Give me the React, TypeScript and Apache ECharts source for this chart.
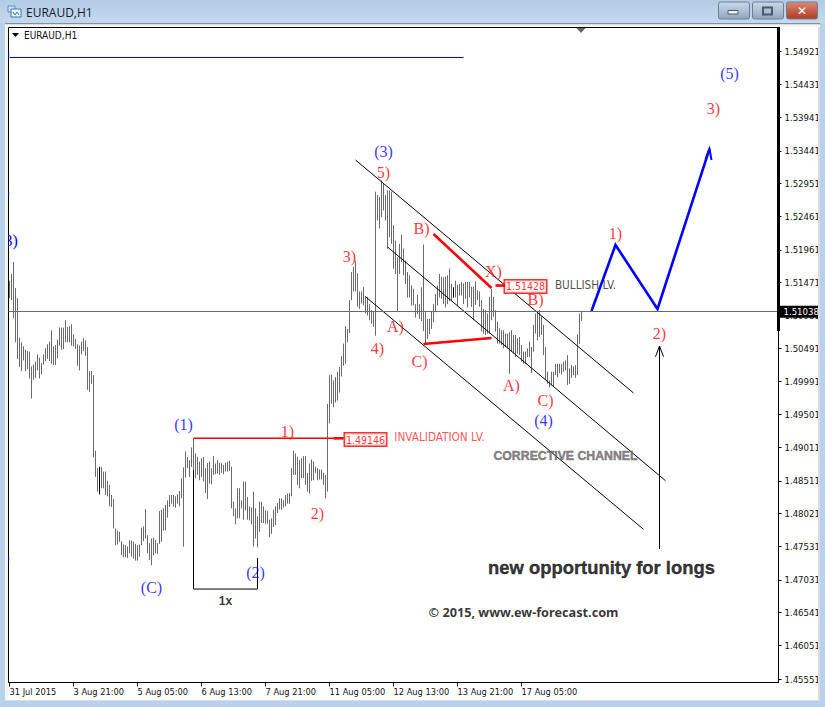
import React, { useEffect, useRef } from "react";
import * as echarts from "echarts";

const categoryCount = 385;
const tickLabels = ["31 Jul 2015", "3 Aug 21:00", "5 Aug 05:00", "6 Aug 13:00", "7 Aug 21:00", "11 Aug 05:00", "12 Aug 13:00", "13 Aug 21:00", "17 Aug 05:00"];
const priceTicks = [1.54921, 1.54431, 1.53941, 1.53441, 1.52951, 1.52461, 1.51961, 1.51471, 1.50981, 1.50491, 1.49991, 1.49501, 1.49011, 1.48511, 1.48021, 1.47531, 1.47031, 1.46541, 1.46051, 1.45551];
const lastPrice = 1.51038;

const barHigh = [
  1.5150, 1.5160, 1.5178, 1.5139, 1.5124, 1.5065, 1.5058, 1.5052, 1.5047, 1.5045, 1.5044, 1.5022, 1.5025, 1.5029, 1.5040, 1.5035, 1.5027, 1.5040, 1.5049, 1.5055, 1.5059, 1.5076, 1.5052, 1.5054, 1.5062, 1.5080, 1.5080, 1.5080, 1.5091, 1.5081, 1.5082, 1.5085, 1.5070, 1.5063, 1.5055, 1.5053, 1.5059, 1.5064, 1.5061, 1.5051, 1.5015, 1.5015, 1.5009,
  1.4896, 1.4870, 1.4872, 1.4872, 1.4865, 1.4865, 1.4851, 1.4845, 1.4830, 1.4824, 1.4780, 1.4777, 1.4775, 1.4761, 1.4756, 1.4755, 1.4753, 1.4762, 1.4762, 1.4760, 1.4757, 1.4755, 1.4756, 1.4781, 1.4783, 1.4809, 1.4770, 1.4758, 1.4765, 1.4766, 1.4763, 1.4758, 1.4806, 1.4808, 1.4810, 1.4815, 1.4822, 1.4830, 1.4830, 1.4830, 1.4828, 1.4831, 1.4836, 1.4855, 1.4871, 1.4895, 1.4887, 1.4882, 1.4901, 1.4915, 1.4892, 1.4887, 1.4880, 1.4885, 1.4887, 1.4870, 1.4878, 1.4880, 1.4870, 1.4888, 1.4877, 1.4882, 1.4878, 1.4878, 1.4875, 1.4878, 1.4880, 1.4881, 1.4872, 1.4820, 1.4810, 1.4840, 1.4840, 1.4822, 1.4850, 1.4850, 1.4827, 1.4813, 1.4811, 1.4835, 1.4810, 1.4798, 1.4820, 1.4820, 1.4813, 1.4807, 1.4806, 1.4793, 1.4795, 1.4808, 1.4813, 1.4818, 1.4825, 1.4825, 1.4822, 1.4830, 1.4832, 1.4833, 1.4870, 1.4896, 1.4892, 1.4887, 1.4882, 1.4885, 1.4888, 1.4888, 1.4863, 1.4877, 1.4883, 1.4880, 1.4872, 1.4870, 1.4868, 1.4868, 1.4863, 1.4860, 1.4966,
  1.5009, 1.5010, 1.5001, 1.5006, 1.5014, 1.5021, 1.5037, 1.5056, 1.5082, 1.5078, 1.5121, 1.5163, 1.5171, 1.5180, 1.5161, 1.5134, 1.5134, 1.5141, 1.5127, 1.5126, 1.5115, 1.5106, 1.5104,
  1.5283, 1.5278, 1.5275, 1.5300, 1.5295, 1.5278, 1.5285, 1.5285, 1.5283, 1.5233, 1.5210, 1.5185, 1.5205, 1.5219, 1.5198, 1.5180, 1.5163, 1.5158, 1.5143, 1.5138, 1.5115, 1.5129, 1.5115, 1.5140, 1.5204, 1.5103, 1.5093, 1.5093, 1.5105, 1.5115, 1.5130, 1.5143, 1.5160, 1.5156, 1.5155, 1.5156, 1.5158, 1.5168, 1.5145, 1.5140, 1.5150, 1.5144, 1.5145, 1.5148, 1.5146, 1.5148, 1.5148, 1.5148,
  1.5141, 1.5141, 1.5149, 1.5136, 1.5134, 1.5121, 1.5108, 1.5106, 1.5101, 1.5126, 1.5138, 1.5126, 1.5106, 1.5089, 1.5079, 1.5076, 1.5076, 1.5071, 1.5071, 1.5073, 1.5076, 1.5069, 1.5069, 1.5064, 1.5066, 1.5054, 1.5044, 1.5044, 1.5049, 1.5059, 1.5051, 1.5084, 1.5101, 1.5105, 1.5106, 1.5097, 1.5084, 1.5051, 1.5014, 1.5001, 1.5014, 1.5014, 1.5026, 1.5026, 1.5026, 1.5026, 1.5029, 1.5031, 1.5039, 1.5019, 1.5024, 1.5022, 1.5024, 1.5070, 1.5101, 1.5105,
];

const barLow = [
  1.5124, 1.5121, 1.5094, 1.5058, 1.5033, 1.5021, 1.5015, 1.5031, 1.5015, 1.5018, 1.5004, 1.4974, 1.5002, 1.5005, 1.5016, 1.5004, 1.5010, 1.5025, 1.5030, 1.5033, 1.5030, 1.5026, 1.5024, 1.5024, 1.5034, 1.5053, 1.5047, 1.5048, 1.5058, 1.5058, 1.5058, 1.5053, 1.5052, 1.5048, 1.5023, 1.5016, 1.5040, 1.5045, 1.5038, 1.4987, 1.4984, 1.4996, 1.4886,
  1.4857, 1.4835, 1.4831, 1.4840, 1.4840, 1.4830, 1.4828, 1.4813, 1.4812, 1.4780, 1.4755, 1.4756, 1.4760, 1.4740, 1.4737, 1.4737, 1.4736, 1.4743, 1.4738, 1.4735, 1.4732, 1.4732, 1.4738, 1.4755, 1.4761, 1.4765, 1.4743, 1.4733, 1.4725, 1.4740, 1.4743, 1.4742, 1.4757, 1.4760, 1.4777, 1.4777, 1.4796, 1.4812, 1.4817, 1.4813, 1.4811, 1.4817, 1.4813, 1.4825, 1.4753, 1.4856, 1.4870, 1.4857, 1.4872, 1.4867, 1.4855, 1.4860, 1.4852, 1.4857, 1.4850, 1.4833, 1.4824, 1.4847, 1.4846, 1.4860, 1.4861, 1.4862, 1.4860, 1.4863, 1.4861, 1.4865, 1.4865, 1.4866, 1.4810, 1.4798, 1.4786, 1.4795, 1.4795, 1.4810, 1.4793, 1.4807, 1.4793, 1.4792, 1.4786, 1.4753, 1.4765, 1.4752, 1.4775, 1.4788, 1.4788, 1.4787, 1.4787, 1.4767, 1.4772, 1.4782, 1.4785, 1.4803, 1.4808, 1.4808, 1.4811, 1.4813, 1.4817, 1.4817, 1.4828, 1.4860, 1.4860, 1.4845, 1.4840, 1.4855, 1.4855, 1.4845, 1.4835, 1.4832, 1.4851, 1.4852, 1.4863, 1.4852, 1.4853, 1.4853, 1.4845, 1.4825, 1.4835,
  1.4937, 1.4966, 1.4961, 1.4968, 1.4971, 1.4983, 1.5007, 1.5023, 1.5026, 1.5058, 1.5072, 1.5121, 1.5134, 1.5134, 1.5111, 1.5108, 1.5116, 1.5113, 1.5101, 1.5098, 1.5091, 1.5086, 1.5081,
  1.5068, 1.5240, 1.5228, 1.5245, 1.5255, 1.5240, 1.5198, 1.5215, 1.5205, 1.5168, 1.5160, 1.5104, 1.5160, 1.5178, 1.5158, 1.5145, 1.5125, 1.5125, 1.5113, 1.5113, 1.5095, 1.5100, 1.5093, 1.5090, 1.5075, 1.5055, 1.5063, 1.5070, 1.5078, 1.5088, 1.5103, 1.5113, 1.5125, 1.5123, 1.5115, 1.5110, 1.5115, 1.5120, 1.5120, 1.5125, 1.5125, 1.5113, 1.5128, 1.5128, 1.5115, 1.5123, 1.5110, 1.5125,
  1.5111, 1.5091, 1.5114, 1.5121, 1.5111, 1.5074, 1.5071, 1.5069, 1.5071, 1.5071, 1.5091, 1.5096, 1.5074, 1.5056, 1.5056, 1.5054, 1.5049, 1.5051, 1.5049, 1.5011, 1.5044, 1.5041, 1.5036, 1.5041, 1.5039, 1.5029, 1.5026, 1.5026, 1.5036, 1.5036, 1.5012, 1.5044, 1.5071, 1.5061, 1.5066, 1.5069, 1.5039, 1.5002, 1.4996, 1.4991, 1.4994, 1.4991, 1.5009, 1.5006, 1.5012, 1.5010, 1.5014, 1.5016, 1.4994, 1.4996, 1.5005, 1.5009, 1.5005, 1.5009, 1.5056, 1.5090,
];

// Each segment: pairs of [bar index, price]
const darkBarParts = [[[45, 1.4872], [45, 1.4831]], [[222, 1.5140], [222, 1.5125]]];
const channelLines = [
  [[173, 1.53303], [312, 1.49823]],
  [[189, 1.52004], [328, 1.48513]],
  [[178, 1.51261], [317, 1.47787]],
];
const topLine = [[[0, 1.54834], [227, 1.54834]]];
const invalidationLine = [[[92, 1.49146], [167, 1.49146]]];
const redThick = [
  [[162, 1.49146], [167, 1.49146]],
  [[243, 1.51428], [248, 1.51428]],
  [[212, 1.52198], [241, 1.51391]],
  [[207, 1.50555], [241, 1.50644]],
];
const forecastPath = [[[291, 1.51048], [303, 1.52034], [324, 1.51078], [350, 1.53468]]];
const forecastHead = [[[348, 1.53318], [350, 1.53468], [351, 1.53303]]];
const upArrow = [
  [[325, 1.47493], [325, 1.50525]],
  [[323, 1.50365], [325, 1.50525], [327, 1.50365]],
];
const bracket = [[[92, 1.48673], [92, 1.46895], [124, 1.46895], [124, 1.47358]]];

// [text, bar index, price]
const blueWaves: [string, number, number][] = [
  ["(1)", 87, 1.49345], ["(2)", 123, 1.47149], ["(C)", 71, 1.46925], ["(3)", 187, 1.53423], ["(4)", 267, 1.49405], ["(5)", 360, 1.54588],
];
const redWaves: [string, number, number][] = [
  ["1)", 139, 1.49255], ["2)", 154, 1.4803], ["3)", 170, 1.51869], ["5)", 187, 1.53109], ["4)", 184, 1.50495], ["A)", 193, 1.50809],
  ["B)", 206, 1.52273], ["C)", 205, 1.50286], ["X)", 242, 1.51645], ["B)", 263, 1.51212], ["A)", 251, 1.49942], ["C)", 268, 1.49718],
  ["1)", 303, 1.52198], ["2)", 325, 1.50719], ["3)", 352, 1.54065],
];
const priceTags: [string, number, number][] = [["1.49146", 178, 1.49128], ["1.51428", 258, 1.51414]];
const invalidationNote: [string, number, number][] = [["INVALIDATION LV.", 215, 1.49166]];
const bullishNote: [string, number, number][] = [["BULLISH LV.", 288, 1.51436]];
const channelNote: [string, number, number][] = [["CORRECTIVE CHANNEL", 278, 1.48882]];
const longsNote: [string, number, number][] = [["new opportunity for longs", 296, 1.47224]];
const copyrightNote: [string, number, number][] = [["\u00a9 2015, www.ew-forecast.com", 257, 1.46552]];
const oneXNote: [string, number, number][] = [["1x", 108, 1.46716]];

const categories = Array.from({ length: categoryCount }, (_, i) => (i % 32 === 0 ? tickLabels[i / 32] ?? "" : ""));

const uiFont = "DejaVu Sans Condensed, DejaVu Sans";

function lineSeries(segments: number[][][], color: string, width: number) {
  return {
    type: "lines",
    coordinateSystem: "cartesian2d",
    polyline: true,
    silent: true,
    animation: false,
    z: 4,
    symbol: "none",
    lineStyle: { color, width, opacity: 1, curveness: 0 },
    data: segments.map((coords) => ({ coords })),
  };
}

function textSeries(items: [string, number, number][], label: any) {
  return {
    type: "scatter",
    silent: true,
    z: 6,
    symbolSize: 1,
    itemStyle: { color: "rgba(0,0,0,0)" },
    label: { show: true, position: "inside", formatter: (p: any) => p.name, ...label },
    data: items.map(([name, i, price]) => ({ name, value: [i, price] })),
  };
}

function chrome() {
  const frame = "#b9d1ea";
  const button = (x: number, w: number, top: string, bottom: string) => ({
    type: "rect",
    z: 101,
    shape: { x, y: 2, width: w, height: 17, r: 2 },
    style: {
      fill: new echarts.graphic.LinearGradient(0, 0, 0, 1, [{ offset: 0, color: top }, { offset: 1, color: bottom }]),
      stroke: "#6f7f92",
      lineWidth: 1,
    },
  });
  return [
    // clipped remains of labels left of the window edge
    { type: "text", z: 3, style: { text: "(3)", x: 8.5, y: 240, align: "center", verticalAlign: "middle", fill: "#0000ff", font: "16px 'Liberation Serif'" } },
    { type: "text", z: 3, style: { text: ")", x: 9.5, y: 52, align: "right", verticalAlign: "middle", fill: "#0000ff", font: "16px 'Liberation Serif'" } },
    { type: "text", z: 3, style: { text: ")", x: 9.5, y: 192, align: "right", verticalAlign: "middle", fill: "#0000ff", font: "16px 'Liberation Serif'" } },
    { type: "text", z: 3, style: { text: ")", x: 9.5, y: 557, align: "right", verticalAlign: "middle", fill: "#0000ff", font: "16px 'Liberation Serif'" } },
    // window frame
    { type: "rect", z: 100, shape: { x: 0, y: 0, width: 5, height: 707 }, style: { fill: frame } },
    { type: "rect", z: 100, shape: { x: 5, y: 24, width: 3, height: 676 }, style: { fill: "#f4f4f4" } },
    { type: "rect", z: 100, shape: { x: 820, y: 0, width: 5, height: 707 }, style: { fill: frame } },
    { type: "rect", z: 100, shape: { x: 818, y: 24, width: 2, height: 676 }, style: { fill: "#dcdcdc" } },
    { type: "rect", z: 100, shape: { x: 0, y: 701, width: 825, height: 6 }, style: { fill: frame } },
    { type: "rect", z: 100, shape: { x: 5, y: 700, width: 815, height: 1 }, style: { fill: "#dcdcdc" } },
    {
      type: "rect", z: 100, shape: { x: 0, y: 0, width: 825, height: 23 },
      style: { fill: new echarts.graphic.LinearGradient(0, 0, 0, 1, [{ offset: 0, color: "#b3cbe4" }, { offset: 1, color: "#c3d9ef" }]) },
    },
    { type: "rect", z: 100, shape: { x: 5, y: 23, width: 815, height: 1.5 }, style: { fill: "#8a8f96" } },
    { type: "rect", z: 100, shape: { x: 5, y: 24.5, width: 815, height: 2.5 }, style: { fill: "#f4f4f4" } },
    // title
    { type: "rect", z: 101, shape: { x: 8, y: 6, width: 7, height: 6 }, style: { fill: "#cfe2f5", stroke: "#5f8fc0", lineWidth: 1 } },
    { type: "rect", z: 101, shape: { x: 11, y: 9, width: 10, height: 8 }, style: { fill: "#e8f2fb", stroke: "#3f78b5", lineWidth: 1 } },
    { type: "polyline", z: 102, shape: { points: [[13, 12], [15, 15], [17, 12], [19, 15]] }, style: { stroke: "#3f78b5", fill: "none", lineWidth: 1 } },
    { type: "text", z: 101, style: { text: "EURAUD,H1", x: 26, y: 12, verticalAlign: "middle", fill: "#1a1a2a", font: "12px 'Open Sans'" } },
    button(718.5, 31, "#c9d9ea", "#8fa6bf"),
    button(752.5, 31, "#c9d9ea", "#8fa6bf"),
    button(786.5, 31, "#d98a78", "#b03a22"),
    { type: "rect", z: 102, shape: { x: 728, y: 10.5, width: 10, height: 3.5 }, style: { fill: "#eef3f8", stroke: "#4b5a6b", lineWidth: 1 } },
    { type: "rect", z: 102, shape: { x: 763, y: 7.5, width: 9, height: 7 }, style: { fill: "none", stroke: "#4b5a6b", lineWidth: 2 } },
    { type: "text", z: 102, style: { text: "\u2715", x: 802, y: 10.5, align: "center", verticalAlign: "middle", fill: "#ffffff", font: "bold 12px 'DejaVu Sans'" } },
    // chart corner marks
    { type: "polygon", z: 20, shape: { points: [[12, 33], [19, 33], [15.5, 37]] }, style: { fill: "#000" } },
    { type: "text", z: 20, style: { text: "EURAUD,H1", x: 24, y: 35.5, verticalAlign: "middle", fill: "#111", font: "10px " + uiFont } },
    { type: "polygon", z: 20, shape: { points: [[576.5, 28], [585.5, 28], [581, 33]] }, style: { fill: "#666" } },
    { type: "rect", z: 7, shape: { x: 777, y: 27, width: 3, height: 304 }, style: { fill: "#000" } },
  ];
}

const yMax = 1.55282;
const yMin = 1.45499;

export default function App() {
  const ref = useRef<HTMLDivElement>(null);
  useEffect(() => {
    if (!ref.current) return;
    const chart = echarts.init(ref.current, undefined, { renderer: "svg" });
    chart.setOption({
      animation: false,
      backgroundColor: "#ffffff",
      textStyle: { fontFamily: uiFont },
      grid: { left: 8.5, top: 27.5, width: 770, height: 655, show: true, borderColor: "#000", borderWidth: 1, backgroundColor: "#fff" },
      xAxis: {
        type: "category",
        data: categories,
        boundaryGap: true,
        axisLine: { show: true, lineStyle: { color: "#000", width: 1 } },
        axisTick: { show: true, alignWithLabel: true, length: 4, lineStyle: { color: "#000" }, interval: (i: number) => i % 32 === 0 && i <= 256 },
        axisLabel: { show: true, interval: (i: number) => i % 32 === 0 && i <= 256, align: "left", margin: 4, color: "#111", fontSize: 9.2, fontFamily: uiFont, hideOverlap: false },
        splitLine: { show: false },
      },
      yAxis: {
        type: "value",
        position: "right",
        min: yMin,
        max: yMax,
        scale: true,
        axisLine: { show: true, lineStyle: { color: "#000", width: 1 } },
        axisTick: { show: true, length: 3, lineStyle: { color: "#000" }, customValues: priceTicks },
        axisLabel: { show: true, margin: 6, color: "#111", fontSize: 9.5, fontFamily: uiFont, customValues: priceTicks, formatter: (v: number) => v.toFixed(5), showMinLabel: true, showMaxLabel: true },
        splitLine: { show: false },
      },
      series: [
        {
          type: "custom",
          silent: true,
          z: 2,
          clip: true,
          encode: { x: 0, y: [1, 2] },
          data: barHigh.map((h, i) => [i, h, barLow[i]]),
          renderItem: (_p: any, api: any) => {
            const a = api.coord([api.value(0), api.value(1)]);
            const b = api.coord([api.value(0), api.value(2)]);
            return { type: "line", shape: { x1: a[0], y1: a[1], x2: b[0], y2: b[1] }, style: { stroke: "#6a6a6a", lineWidth: 1 } };
          },
          markLine: {
            silent: true,
            symbol: "none",
            animation: false,
            precision: 5,
            lineStyle: { color: "#6a6a6a", width: 1, type: "solid" },
            label: {
              show: true,
              position: "end",
              distance: 1,
              formatter: () => lastPrice.toFixed(5),
              color: "#fff",
              backgroundColor: "#000",
              padding: [1, 1, 1, 4],
              fontSize: 9.5,
              fontFamily: uiFont,
            },
            data: [{ yAxis: lastPrice }],
          },
        },
        lineSeries(darkBarParts, "#000000", 1),
        lineSeries(channelLines, "#000000", 1),
        lineSeries(topLine, "#0000c8", 1),
        lineSeries(invalidationLine, "#ff0000", 1.5),
        lineSeries(redThick, "#ff0000", 2.6),
        lineSeries(forecastPath, "#0000ff", 2.6),
        lineSeries(forecastHead, "#0000ff", 2),
        lineSeries(upArrow, "#000000", 1),
        lineSeries(bracket, "#000000", 1),
        textSeries(blueWaves, { color: "#0000ff", fontSize: 16, fontFamily: "Liberation Serif" }),
        textSeries(redWaves, { color: "#ff0000", fontSize: 16, fontFamily: "Liberation Serif" }),
        textSeries(priceTags, { color: "#ff0000", fontSize: 10.5, fontFamily: uiFont, backgroundColor: "#fff", borderColor: "#ff0000", borderWidth: 1.5, padding: [1, 1, 0, 1] }),
        textSeries(invalidationNote, { color: "#ff2a2a", fontSize: 11.7, fontFamily: uiFont }),
        textSeries(bullishNote, { color: "#222", fontSize: 11.7, fontFamily: uiFont }),
        textSeries(channelNote, { color: "#666", fontSize: 12.3, fontWeight: "bold", fontFamily: "Liberation Sans", textBorderColor: "#666", textBorderWidth: 0.5 }),
        textSeries(longsNote, { color: "#000", fontSize: 18.4, fontWeight: "bold", fontFamily: "Liberation Sans", textBorderColor: "#000", textBorderWidth: 0.4 }),
        textSeries(copyrightNote, { color: "#000", fontSize: 12.7, fontWeight: "bold", fontFamily: "Noto Sans" }),
        textSeries(oneXNote, { color: "#000", fontSize: 12, fontWeight: "bold", fontFamily: "Liberation Sans" }),
      ],
      graphic: { elements: chrome() },
    });
    return () => chart.dispose();
  }, []);
  return <div ref={ref} style={{ position: "absolute", left: 0, top: 0, width: 825, height: 707 }} />;
}
